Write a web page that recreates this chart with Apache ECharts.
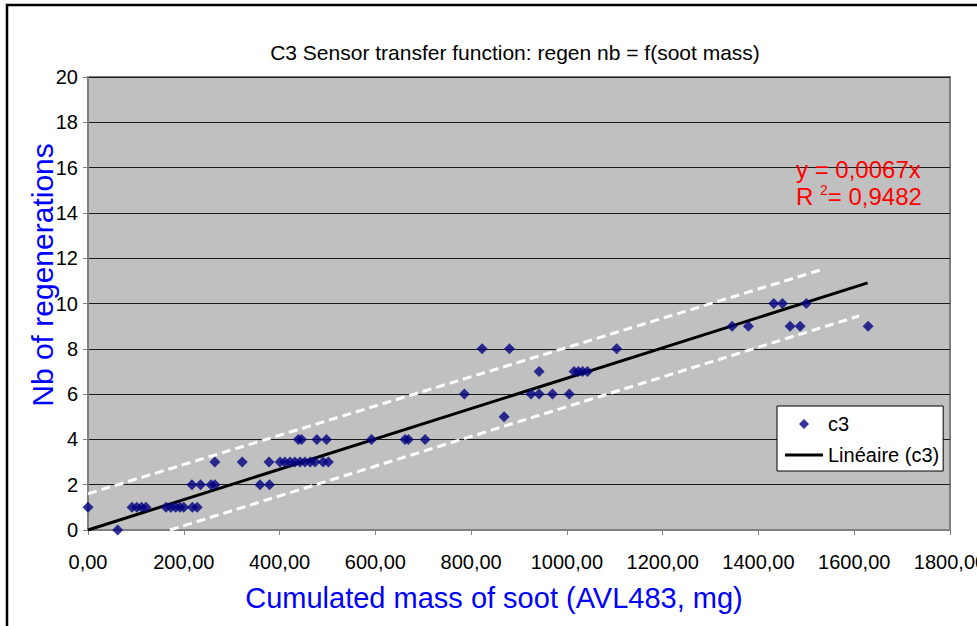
<!DOCTYPE html>
<html>
<head>
<meta charset="utf-8">
<script src="https://cdn.jsdelivr.net/npm/echarts@6/dist/echarts.min.js"></script>
<style>
  html, body { margin: 0; padding: 0; background: #fff; }
  #chart { width: 977px; height: 626px; }
</style>
</head>
<body>
<div id="chart"></div>
<script>
// measured points: [soot mass mg, regeneration count]
const c3Points = [
  [0, 1], [62, 0],
  [92, 1], [102, 1], [112, 1], [121, 1],
  [163, 1], [173, 1], [183, 1], [192, 1], [200, 1], [218, 1], [228, 1],
  [217, 2], [235, 2], [257, 2], [265, 2], [359, 2], [379, 2],
  [265, 3], [322, 3], [378, 3],
  [401, 3], [411, 3], [422, 3], [432, 3], [443, 3], [453, 3], [464, 3], [474, 3], [491, 3], [502, 3],
  [439, 4], [446, 4], [478, 4], [498, 4], [592, 4], [662, 4], [669, 4], [704, 4],
  [869, 5],
  [786, 6], [925, 6], [942, 6], [970, 6], [1005, 6],
  [942, 7], [1015, 7], [1024, 7], [1033, 7], [1043, 7],
  [823, 8], [880, 8], [1104, 8],
  [1345, 9], [1379, 9], [1466, 9], [1487, 9], [1629, 9],
  [1432, 10], [1450, 10], [1500, 10]
];

// linear trend through origin, y = slope * x
const trendSlope = 0.0067;
const trendRange = [0, 1628];
const rSquared = '0,9482';

// dashed bounds drawn around the trend
const upperBound = [[0, 1.6], [1530, 11.48]];
const lowerBound = [[171, 0], [1610, 9.45]];

const xTicks = { min: 0, max: 1800, interval: 200 };
const yTicks = { min: 0, max: 20, interval: 2 };

const trendLine = trendRange.map(x => [x, x * trendSlope]);

const FONT = "'Liberation Sans', Arial, sans-serif";
const diamondIcon = 'path://M5,0 L10,5 L5,10 L0,5 Z';
const lineIcon = 'path://M0,0 L38,0 L38,3 L0,3 Z';

const chart = echarts.init(document.getElementById('chart'), null, { renderer: 'svg' });

const option = {
  animation: false,
  backgroundColor: '#fff',
  textStyle: { fontFamily: FONT },
  grid: {
    left: 88, top: 77, width: 862, height: 453,
    outerBoundsMode: 'none',
    containLabel: false,
    show: true,
    backgroundColor: '#c0c0c0',
    borderColor: '#808080',
    borderWidth: 2
  },
  legend: {
    left: 777, top: 406,
    orient: 'vertical',
    backgroundColor: '#fff',
    borderColor: '#000',
    borderWidth: 1,
    padding: [8, 4, 6, 8],
    itemWidth: 38,
    itemHeight: 10,
    itemGap: 11,
    textStyle: { fontFamily: FONT, fontSize: 20, color: '#000' },
    data: [
      { name: 'c3', icon: diamondIcon },
      { name: 'Linéaire (c3)', icon: lineIcon }
    ]
  },
  xAxis: {
    type: 'value',
    min: xTicks.min, max: xTicks.max, interval: xTicks.interval,
    axisLine: { show: true, lineStyle: { color: '#808080', width: 1 } },
    axisTick: { show: true, length: 5, lineStyle: { color: '#808080' } },
    splitLine: { show: false },
    axisLabel: {
      margin: 22,
      fontSize: 20,
      color: '#000',
      fontFamily: FONT,
      formatter: v => v.toFixed(2).replace('.', ',')
    }
  },
  yAxis: {
    type: 'value',
    min: yTicks.min, max: yTicks.max, interval: yTicks.interval,
    axisLine: { show: true, lineStyle: { color: '#808080', width: 1 } },
    axisTick: { show: true, length: 5, lineStyle: { color: '#808080' } },
    splitLine: { show: true, lineStyle: { color: '#1a1a1a', width: 1 } },
    axisLabel: { margin: 10, fontSize: 20, color: '#000', fontFamily: FONT }
  },
  series: [
    {
      name: 'upper',
      type: 'line',
      data: upperBound,
      symbol: 'none',
      silent: true,
      lineStyle: { color: '#fff', width: 3, type: [9, 5] },
      z: 2
    },
    {
      name: 'lower',
      type: 'line',
      data: lowerBound,
      symbol: 'none',
      silent: true,
      lineStyle: { color: '#fff', width: 3, type: [9, 5] },
      z: 2
    },
    {
      name: 'Linéaire (c3)',
      type: 'line',
      data: trendLine,
      symbol: 'none',
      lineStyle: { color: '#000', width: 3 },
      itemStyle: { color: '#000' },
      z: 3
    },
    {
      name: 'c3',
      type: 'scatter',
      data: c3Points,
      symbol: 'diamond',
      symbolSize: 11,
      itemStyle: { color: '#000080' },
      z: 4
    }
  ],
  graphic: [
    {
      type: 'rect',
      shape: { x: 7, y: 5, width: 1000, height: 700 },
      style: { fill: 'none', stroke: '#000', lineWidth: 2.5 },
      silent: true
    },
    {
      type: 'text',
      x: 515, y: 52,
      style: {
        text: 'C3 Sensor transfer function: regen nb = f(soot mass)',
        font: '21px ' + FONT,
        fill: '#000',
        textAlign: 'center',
        textVerticalAlign: 'middle'
      }
    },
    {
      type: 'text',
      x: 42, y: 275,
      rotation: Math.PI / 2,
      style: {
        text: 'Nb of regenerations',
        font: '30px ' + FONT,
        fill: '#0000ff',
        textAlign: 'center',
        textVerticalAlign: 'middle'
      }
    },
    {
      type: 'text',
      x: 494, y: 598,
      style: {
        text: 'Cumulated mass of soot (AVL483, mg)',
        font: '29px ' + FONT,
        fill: '#0000ff',
        textAlign: 'center',
        textVerticalAlign: 'middle'
      }
    },
    {
      type: 'text',
      x: 796, y: 156,
      z: 10,
      style: {
        text: 'y = 0,' + String(trendSlope).split('.')[1] + 'x\n{n|R }{s|2}{n|= ' + rSquared + '}',
        font: '24px ' + FONT,
        fill: '#ff0000',
        lineHeight: 27,
        rich: {
          n: { fontSize: 24, fill: '#ff0000', fontFamily: FONT },
          s: { fontSize: 14, fill: '#ff0000', fontFamily: FONT, verticalAlign: 'top', padding: [0, 0, 10, 0] }
        }
      }
    }
  ]
};

chart.setOption(option);
window.addEventListener('resize', () => chart.resize());
</script>
</body>
</html>
